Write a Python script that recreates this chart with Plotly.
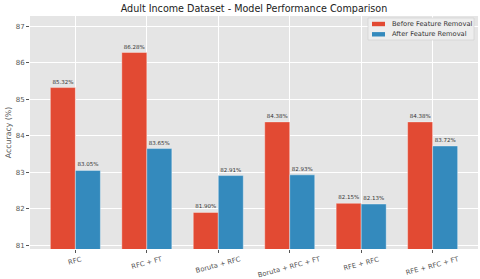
import plotly.graph_objects as go

categories = ["RFC", "RFC + FT", "Boruta + RFC", "Boruta + RFC + FT", "RFE + RFC", "RFE + RFC + FT"]
before = [85.32, 86.28, 81.90, 84.38, 82.15, 84.38]
after = [83.05, 83.65, 82.91, 82.93, 82.13, 83.72]
series_names = ["Before Feature Removal", "After Feature Removal"]
colors = ["#E24A33", "#348ABD"]
y_ticks = [81, 82, 83, 84, 85, 86, 87]

FONT = "DejaVu Sans"
W, H = 480, 279
ML, MR, MT, MB = 30, 2, 16, 30
PW, PH = W - ML - MR, H - MT - MB


def px(x):  # pixel x -> paper
    return (x - ML) / PW


def py(y):  # pixel y (from top) -> paper
    return (H - MB - y) / PH


fig = go.Figure()
for name, vals, col in zip(series_names, [before, after], colors):
    fig.add_trace(go.Bar(
        x=list(range(len(categories))), y=vals, name=name,
        marker=dict(color=col, line=dict(color="rgba(255,255,255,0.6)", width=0.6)),
        text=[f"{v:.2f}%" for v in vals], textposition="outside",
        textfont=dict(family=FONT, size=5.5, color="#333333"),
        cliponaxis=False, showlegend=False, hoverinfo="skip",
    ))

# x tick labels, rotated and centred under the ticks
for i, c in enumerate(categories):
    fig.add_annotation(x=i, xref="x", y=0, yref="paper", yshift=-3.5,
                       text=c, showarrow=False, textangle=-15,
                       xanchor="center", yanchor="top",
                       font=dict(family=FONT, size=6.8, color="#555555"))

# compact legend box
shapes = [dict(type="rect", xref="paper", yref="paper",
               x0=px(368), x1=px(474), y0=py(40), y1=py(18),
               fillcolor="#EEEEEE", line=dict(color="#CCCCCC", width=0.6))]
for k, (name, col) in enumerate(zip(series_names, colors)):
    cy = 24 + k * 10.3
    shapes.append(dict(type="rect", xref="paper", yref="paper",
                       x0=px(372), x1=px(385), y0=py(cy + 2.2), y1=py(cy - 2.2),
                       fillcolor=col, line=dict(width=0)))
    fig.add_annotation(x=px(390), y=py(cy), xref="paper", yref="paper",
                       text=name, showarrow=False, xanchor="left", yanchor="middle",
                       font=dict(family=FONT, size=6.7, color="#333333"))

lo = min(before + after) - 1
hi = max(before + after) + 1
fig.update_layout(
    width=W, height=H,
    margin=dict(l=ML, r=MR, t=MT, b=MB, autoexpand=False),
    paper_bgcolor="white", plot_bgcolor="#E5E5E5",
    barmode="group", bargap=0.3, bargroupgap=0,
    font=dict(family=FONT, color="#555555"),
    title=dict(text="Adult Income Dataset - Model Performance Comparison",
               x=0.5, xanchor="center", xref="paper", yref="container",
               y=1 - 8.5 / H, yanchor="middle",
               font=dict(family=FONT, size=9.6, color="#222222")),
    shapes=shapes,
    showlegend=False,
)
fig.update_xaxes(
    range=[-0.635, len(categories) - 1 + 0.635],
    tickmode="array", tickvals=list(range(len(categories))), showticklabels=False,
    showgrid=True, gridcolor="white", gridwidth=0.8, automargin=False,
    ticks="outside", ticklen=3, tickcolor="#555555", zeroline=False,
)
fig.update_yaxes(
    range=[lo, hi], tickvals=y_ticks, automargin=False,
    tickfont=dict(family=FONT, size=7, color="#555555"),
    title=dict(text="Accuracy (%)", font=dict(family=FONT, size=7.8, color="#555555"), standoff=2),
    showgrid=True, gridcolor="white", gridwidth=0.8,
    ticks="outside", ticklen=3, tickcolor="#555555", zeroline=False,
)
fig.write_html("out.html", config={"displayModeBar": False},
               post_script="document.body.style.margin='0px';document.body.style.overflow='hidden';")
